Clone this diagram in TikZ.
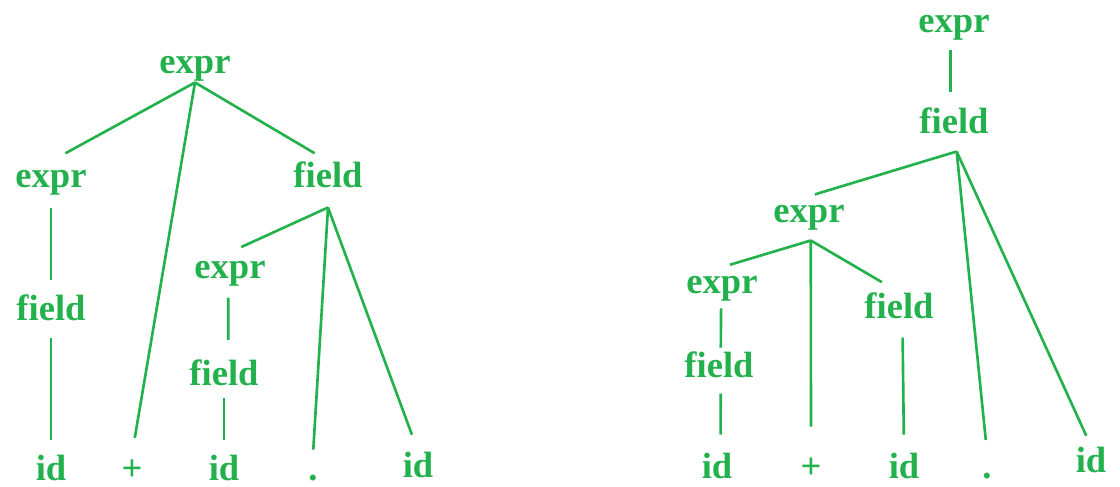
\documentclass[tikz,border=0pt]{standalone}
\usepackage{fontspec}
\setmainfont{Liberation Serif}
\usetikzlibrary{positioning}
\definecolor{treegreen}{HTML}{22B14C}
\tikzset{
	sym/.style={text=treegreen, font=\fontsize{20.8}{25}\selectfont\bfseries, inner sep=0pt, text height=14.5pt, text depth=5.2pt, anchor=base},
	branch/.style={draw=treegreen, line width=1.5pt}
}

\begin{document}
\begin{tikzpicture}
	\useasboundingbox (0, 0) rectangle (22.4, 9.72);
	% left tree
	\node[sym] (A) at (3.90, 8.26) {expr};
	\node[sym] (B) at (1.02, 5.98) {expr};
	\node[sym] (C) at (6.56, 5.98) {field};
	\node[sym] (E) at (1.02, 3.32) {field};
	\node[sym] (G) at (4.60, 4.16) {expr};
	\node[sym] (H) at (4.48, 2.02) {field};
	\node[sym] (F) at (1.02, 0.12) {id};
	\node[sym] (D) at (2.64, 0.12) {+};
	\node[sym] (I) at (4.48, 0.12) {id};
	\node[sym] (J) at (6.26, 0.12) {.};
	\node[sym] (K) at (8.36, 0.18) {id};
	\coordinate (Cj) at ([yshift=-0.22cm]C.south);
	\draw[branch, shorten >=9.3pt] (A.south) -- (B.north);
	\draw[branch, shorten >=9.4pt] (A.south) -- (D.north);
	\draw[branch, shorten >=8.8pt] (A.south) -- (C.north);
	\draw[branch, shorten <=6.3pt, shorten >=8.3pt] (B.south) -- (E.north);
	\draw[branch, shorten <=5pt, shorten >=8.3pt] (E.south) -- (F.north);
	\draw[branch, shorten >=7pt] (Cj) -- (G.north);
	\draw[branch, shorten >=2.6pt] (Cj) -- (J.north);
	\draw[branch, shorten >=10pt] (Cj) -- (K.north);
	\draw[branch, shorten <=5.7pt, shorten >=11pt] ([xshift=-1pt]G.south) -- ([xshift=2.4pt]H.north);
	\draw[branch, shorten <=2pt, shorten >=8.3pt] (H.south) -- (I.north);

	% right tree
	\node[sym] (a) at (19.08, 9.06) {expr};
	\node[sym] (b) at (19.08, 7.06) {field};
	\node[sym] (c) at (16.18, 5.28) {expr};
	\node[sym] (f) at (14.44, 3.86) {expr};
	\node[sym] (h) at (17.98, 3.36) {field};
	\node[sym] (i) at (14.38, 2.18) {field};
	\node[sym] (j) at (14.34, 0.16) {id};
	\node[sym] (g) at (16.22, 0.16) {+};
	\node[sym] (k) at (18.08, 0.16) {id};
	\node[sym] (d) at (19.74, 0.16) {.};
	\node[sym] (e) at (21.82, 0.28) {id};
	\coordinate (bj) at ([xshift=1.5pt, yshift=-0.18cm]b.south);
	\coordinate (cj) at ([xshift=1pt, yshift=-0.18cm]c.south);
	\draw[branch, shorten <=4.5pt, shorten >=8.8pt] ([xshift=-2pt]a.south) -- ([xshift=-2pt]b.north);
	\draw[branch, shorten >=3.5pt] (bj) -- (c.north);
	\draw[branch, shorten >=7pt] (bj) -- (d.north);
	\draw[branch, shorten >=6.5pt] (bj) -- (e.north);
	\draw[branch, shorten >=4.8pt] (cj) -- (f.north);
	\draw[branch, shorten >=14.5pt] (cj) -- (g.north);
	\draw[branch, shorten >=11.3pt] (cj) -- (h.north);
	\draw[branch, shorten <=3.4pt, shorten >=2pt] ([xshift=-0.5pt]f.south) -- ([xshift=1pt]i.north);
	\draw[branch, shorten <=4pt, shorten >=10pt] ([xshift=1pt]i.south) -- ([xshift=2pt]j.north);
	\draw[branch, shorten <=5.7pt, shorten >=10pt] ([xshift=2pt]h.south) -- (k.north);
\end{tikzpicture}
\end{document}
